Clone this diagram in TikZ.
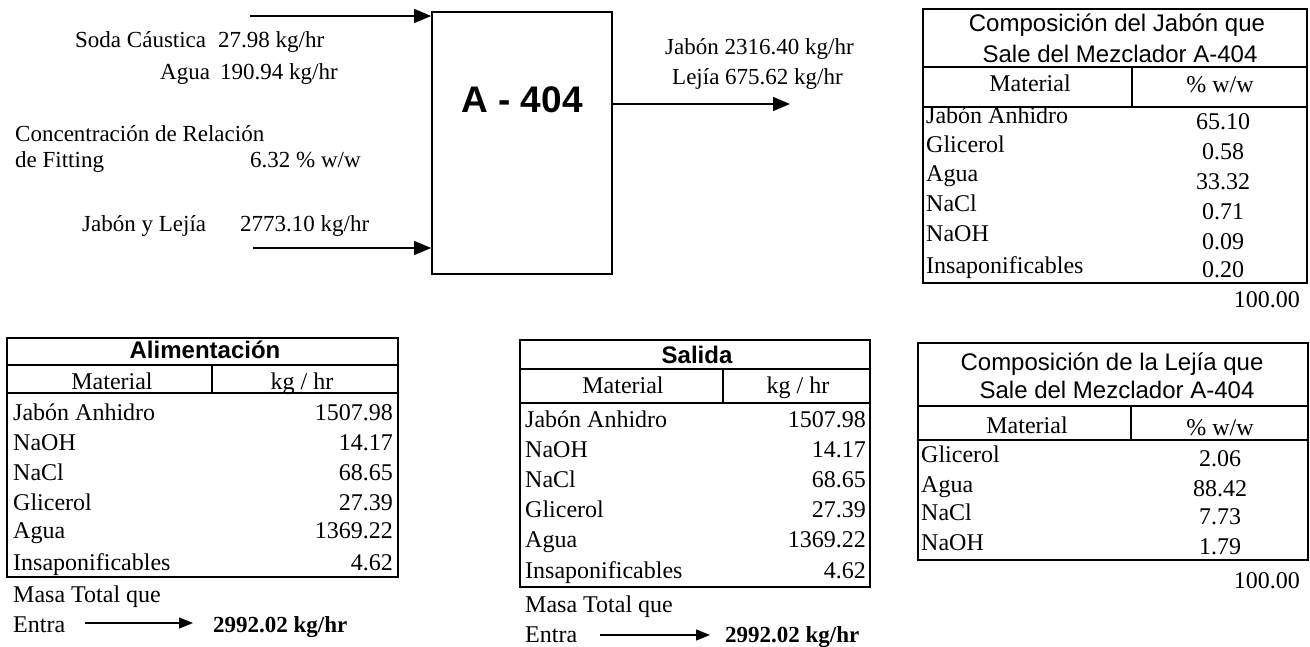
\documentclass[tikz,border=0pt]{standalone}
\usepackage{fontspec}
\setmainfont{Liberation Serif}
\setsansfont{Liberation Sans}
\usetikzlibrary{arrows.meta}
\begin{document}
\begin{tikzpicture}[x=1pt,y=-1pt,
  every node/.style={inner sep=0pt, text height=16pt, text depth=5pt, font=\fontsize{23}{26}\selectfont},
  tl/.style={anchor=west},
  tr/.style={anchor=east},
  tc/.style={anchor=center},
  tab/.style={font=\fontsize{24}{27}\selectfont},
  hdr/.style={anchor=center, font=\sffamily\fontsize{24}{27}\selectfont},
  hdrb/.style={anchor=center, font=\sffamily\bfseries\fontsize{24}{27}\selectfont},
  total/.style={anchor=west, font=\bfseries\fontsize{23}{26}\selectfont},
  outerline/.style={draw, line width=2.2pt},
  innerline/.style={line width=1.4pt},
  flow/.style={line width=1.3pt, -{Triangle[length=17pt,width=14pt]}},
  smallflow/.style={line width=1.2pt, -{Triangle[length=14pt,width=11pt]}},
  unit/.style={draw, line width=1.8pt, minimum width=180pt, minimum height=262pt, text height=, text depth=}
]
\useasboundingbox (0,0) rectangle (1310,647);
\fill[white] (0,0) rectangle (1310,647);

% ---------- mixer ----------
\node[unit] (mix) at (522,143) {};
\node[anchor=center, text height=27pt, text depth=0pt, font=\sffamily\bfseries\fontsize{37}{40}\selectfont] (mixlbl) at (522,99) {A - 404};

\coordinate (in1) at (250,16);
\coordinate (in2) at (253,248);
\coordinate (out1) at (790,104);
\draw[flow] (in1) -- (mix.west |- in1);
\draw[flow] (in2) -- (mix.west |- in2);
\draw[flow] (mix.east |- out1) -- (out1);

% ---------- left texts ----------
\node[tl] (soda) at (75,42.5) {Soda Cáustica};
\node[tl] (sodav) at (218,42.5) {27.98 kg/hr};
\node[tl] (agua) at (160,74.5) {Agua};
\node[tl] (aguav) at (220,74.5) {190.94 kg/hr};
\node[tl] (conc) at (15,136.5) {Concentración de Relación};
\node[tl] (fit) at (15,162.5) {de Fitting};
\node[tl] (fitv) at (250,162.5) {6.32 \% w/w};
\node[tl] (jyl) at (82,226.5) {Jabón y Lejía};
\node[tl] (jylv) at (240,226.5) {2773.10 kg/hr};

% ---------- output texts ----------
\node[tl] (oj) at (665,49.5) {Jabón 2316.40 kg/hr};
\node[tl] (ol) at (672,79.5) {Lejía 675.62 kg/hr};

% ---------- table: Composicion del Jabon ----------
\draw[outerline] (923,9) rectangle (1307,283);
\draw[innerline] (923,67) -- (1307,67);
\draw[outerline] (923,107) -- (1307,107);
\draw[innerline] (1132,67) -- (1132,107);
\node[hdr] (cj1) at (1117,26.5) {Composición del Jabón que};
\node[hdr] (cj2) at (1120,57) {Sale del Mezclador A-404};
\node[tc,tab] (cjm) at (1030,86.5) {Material};
\node[tc,tab] (cjw) at (1220,87.5) {\% w/w};
\foreach \n/\v/\y/\z in {Jabón Anhidro/65.10/118.5/124.5, Glicerol/0.58/147.5/154.5, Agua/33.32/176.5/184.5, NaCl/0.71/206.5/214.5, NaOH/0.09/236.5/244.5, Insaponificables/0.20/267.5/272.5}{
  \node[tl,tab] at (926,\y) {\n};
  \node[tc,tab] at (1223,\z) {\v};
}
\node[tr,tab] (cjt) at (1300,302.5) {100.00};

% ---------- table: Composicion de la Lejia ----------
\draw[outerline] (918,343) rectangle (1308,560);
\draw[innerline] (918,406) -- (1308,406);
\draw[outerline] (918,440) -- (1308,440);
\draw[innerline] (1131,406) -- (1131,440);
\node[hdr] (cl1) at (1112,364.5) {Composición de la Lejía que};
\node[hdr] (cl2) at (1117,392.5) {Sale del Mezclador A-404};
\node[tc,tab] (clm) at (1027,427.5) {Material};
\node[tc,tab] (clw) at (1220,429.5) {\% w/w};
\foreach \n/\v/\y in {Glicerol/2.06/456.5, Agua/88.42/486.5, NaCl/7.73/514.5, NaOH/1.79/544.5}{
  \node[tl,tab] at (921,\y) {\n};
  \node[tc,tab] at (1220,\y+4) {\v};
}
\node[tr,tab] (clt) at (1300,582.5) {100.00};

% ---------- table: Alimentacion ----------
\draw[outerline] (7,338) rectangle (398,577);
\draw[innerline] (7,365) -- (398,365);
\draw[outerline] (7,393) -- (398,393);
\draw[innerline] (212,365) -- (212,393);
\node[hdrb] (ali) at (205,352.5) {Alimentación};
\node[tc,tab] (alm) at (112,384) {Material};
\node[tc,tab] (alk) at (302,384) {kg / hr};
\foreach \n/\v/\y in {Jabón Anhidro/1507.98/414.5, NaOH/14.17/444.5, NaCl/68.65/474.5, Glicerol/27.39/504.5, Agua/1369.22/532.5, Insaponificables/4.62/564.5}{
  \node[tl,tab] at (13,\y) {\n};
  \node[tr,tab] at (393,\y) {\v};
}
\node[tl,tab] (alm1) at (13,596.5) {Masa Total que};
\node[tl,tab] (ale) at (13,626.5) {Entra};
\node[total] (alt) at (213,626.5) {2992.02 kg/hr};
\coordinate (ala) at (85,623);
\coordinate (alb) at (193,623);
\draw[smallflow] (ala) -- (alb);

% ---------- table: Salida ----------
\draw[outerline] (520,340) rectangle (870,587);
\draw[innerline] (520,369) -- (870,369);
\draw[outerline] (520,403) -- (870,403);
\draw[innerline] (723,369) -- (723,403);
\node[hdrb] (sal) at (697,357.5) {Salida};
\node[tc,tab] (salm) at (623,387.5) {Material};
\node[tc,tab] (salk) at (798,387.5) {kg / hr};
\foreach \n/\v/\y in {Jabón Anhidro/1507.98/421.5, NaOH/14.17/451.5, NaCl/68.65/481.5, Glicerol/27.39/511.5, Agua/1369.22/541.5, Insaponificables/4.62/572.5}{
  \node[tl,tab] at (525,\y) {\n};
  \node[tr,tab] at (866,\y) {\v};
}
\node[tl,tab] (salm1) at (525,606.5) {Masa Total que};
\node[tl,tab] (sale) at (525,636.5) {Entra};
\node[total] (salt) at (725,636.5) {2992.02 kg/hr};
\coordinate (sala) at (600,635);
\coordinate (salb) at (710,635);
\draw[smallflow] (sala) -- (salb);
\end{tikzpicture}
\end{document}
